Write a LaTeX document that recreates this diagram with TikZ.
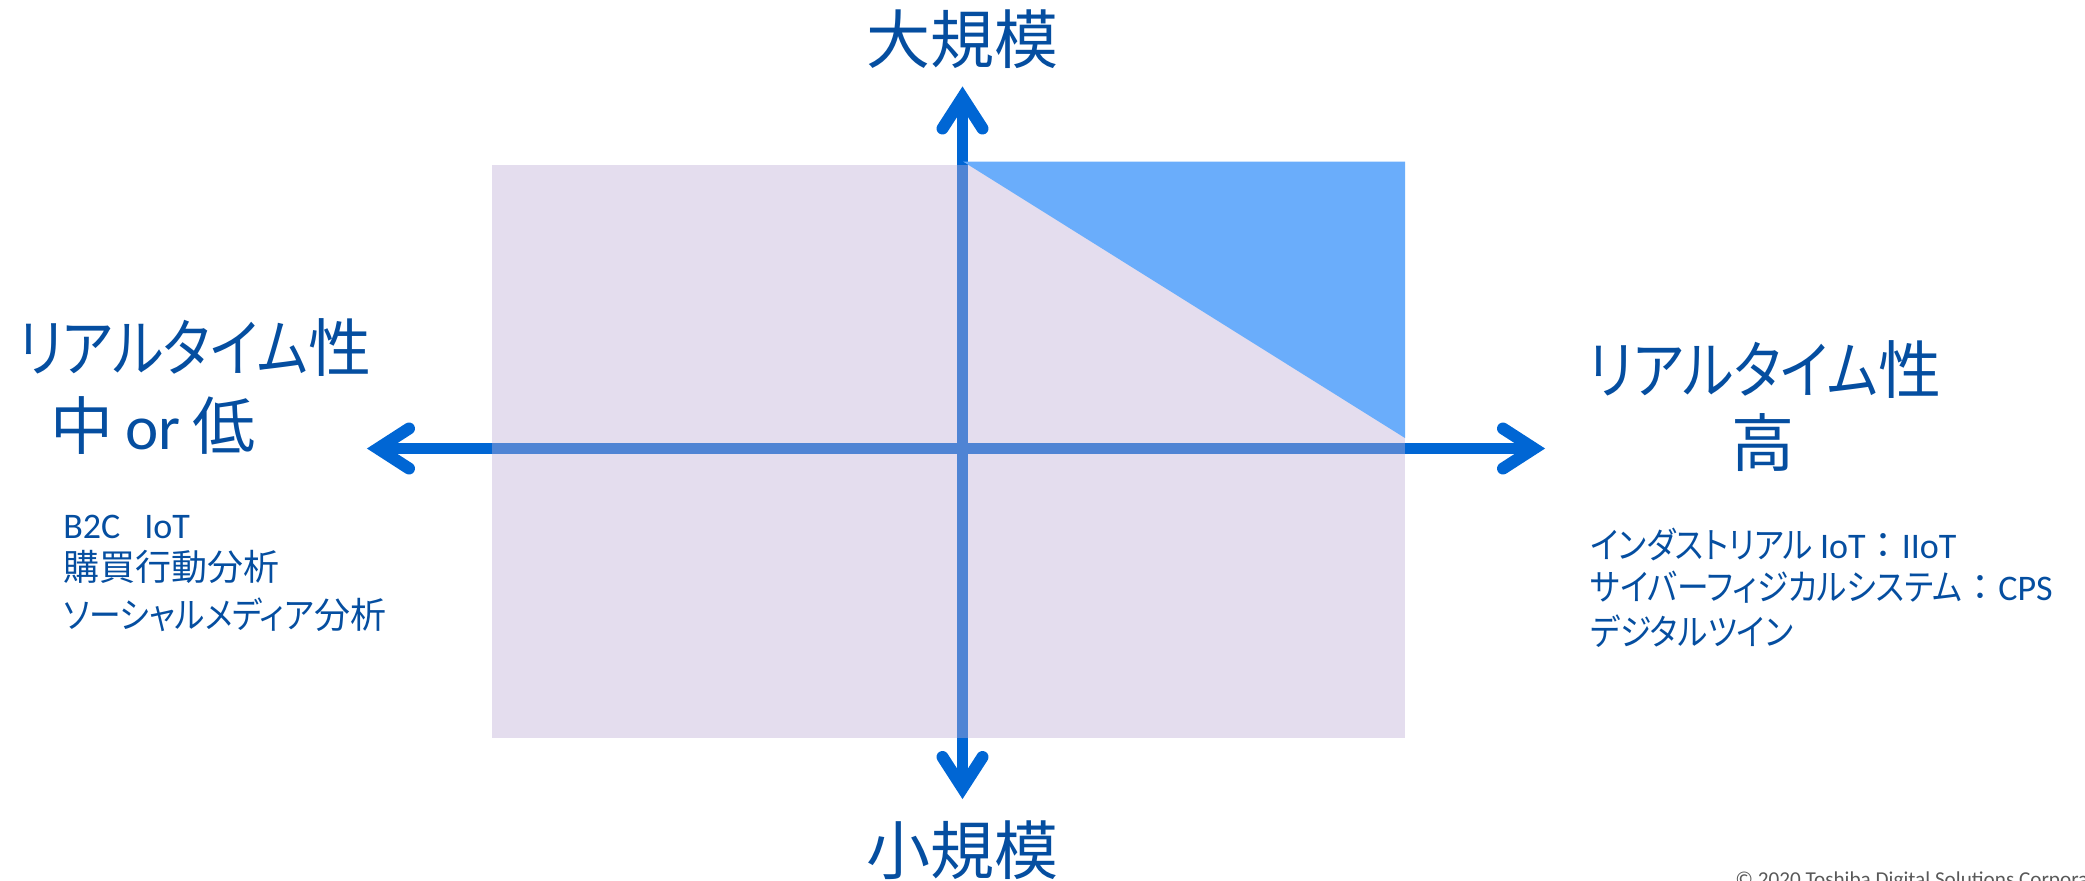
\documentclass[tikz,border=0pt]{standalone}
\usepackage{fontspec}
\setmainfont{Carlito}
\newfontfamily\jp{Noto Sans CJK JP}[RawFeature={+palt}]
\newfontfamily\jpk{Noto Sans CJK JP}[RawFeature={+palt}, FakeStretch=0.86]
\newfontfamily\jps{Noto Sans CJK JP}[RawFeature={+palt}, FakeStretch=0.88]
\newfontfamily\jpf{Noto Sans CJK JP}
\usetikzlibrary{calc}
\definecolor{axisblue}{RGB}{0,102,212}
\definecolor{txtblue}{RGB}{5,78,160}
\definecolor{rectpurple}{RGB}{190,174,214}
\definecolor{triblue}{RGB}{106,173,251}
\definecolor{copygray}{RGB}{89,89,89}
\tikzset{
  axisline/.style={draw=axisblue, line width=5.5pt},
  chev/.style={draw=axisblue, line width=6pt, line cap=round, line join=miter},
  bigtitle/.style={text=txtblue, inner sep=0pt, font=\jp\fontsize{32pt}{38pt}\selectfont},
  sidetitle/.style={text=txtblue, inner sep=0pt, font=\jpk\fontsize{31.5pt}{38pt}\selectfont},
  smalltext/.style={text=txtblue, inner sep=0pt, font=\jps\fontsize{18pt}{22pt}\selectfont},
}
\begin{document}
\begin{tikzpicture}[x=0.5pt,y=-0.5pt]
\useasboundingbox (0,0) rectangle (2085,880);
\clip (0,0) rectangle (2085,880);
% axes
\coordinate (axL) at (378,448.5);
\coordinate (axR) at (1534,448.5);
\coordinate (axT) at (962.5,97.5);
\coordinate (axB) at (962.5,788);
\draw[axisline] (axL) -- (axR);
\draw[axisline] (axT) -- (axB);
\draw[chev] ($(axL)+(31,-20)$) -- (axL) -- ($(axL)+(31,20)$);
\draw[chev] ($(axR)+(-31,-20)$) -- (axR) -- ($(axR)+(-31,20)$);
\draw[chev] ($(axT)+(-20,31)$) -- (axT) -- ($(axT)+(20,31)$);
\draw[chev] ($(axB)+(-20,-31)$) -- (axB) -- ($(axB)+(20,-31)$);
% regions
\fill[rectpurple, fill opacity=0.42] (492,165) rectangle (1405,738);
\fill[triblue] (963,161.5) -- (1405,161.5) -- (1405,438) -- cycle;
% titles
\node[bigtitle, anchor=base] (top) at (962.5,63) {大規模};
\node[bigtitle, anchor=base] (bottom) at (962.5,874) {小規模};
\node[sidetitle, anchor=base west] (l1) at (18,371) {リアルタイム{\jp 性}};
\node[sidetitle, anchor=base west] (l2) at (50,449) {{\jp 中} {\rmfamily or} {\jp 低}};
\node[sidetitle, anchor=base] (r1) at (1765,393) {リアルタイム{\jp 性}};
\node[sidetitle, anchor=base] (r2) at (1763,466) {{\jp 高}};
% small texts
\node[smalltext, anchor=base west] (s1) at (63,538) {{\rmfamily B2C\hspace{12pt}IoT}};
\node[smalltext, anchor=base west] (s2) at (63,580) {{\jp 購買行動分析}};
\node[smalltext, anchor=base west] (s3) at (63,628) {ソーシャルメディア{\jp 分析}};
\node[smalltext, anchor=base west] (t1) at (1590,558) {インダストリアル {\rmfamily IoT}{\jpf ：}{\rmfamily IIoT}};
\node[smalltext, anchor=base west] (t2) at (1590,600) {サイバーフィジカルシステム{\jpf ：}{\rmfamily CPS}};
\node[smalltext, anchor=base west] (t3) at (1590,645) {デジタルツイン};
\node[text=copygray, inner sep=0pt, anchor=base west, font=\fontsize{10.6pt}{12pt}\selectfont] (copy) at (1735,886) {© 2020 Toshiba Digital Solutions Corporation};
\end{tikzpicture}
\end{document}
